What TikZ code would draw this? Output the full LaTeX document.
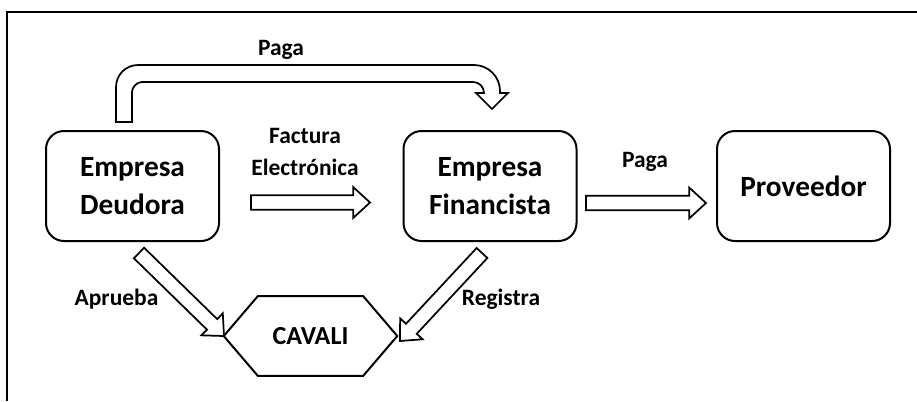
\documentclass[tikz,border=0pt]{standalone}
\usepackage{fontspec}
\setmainfont{Carlito}
\usetikzlibrary{calc}

\tikzset{
  box/.style={draw, line width=1.5pt, rounded corners=13.5pt, minimum width=129.75pt, minimum height=82.5pt, align=center, inner sep=0pt, font=\fontsize{22}{28.5}\selectfont\bfseries},
  lbl/.style={anchor=base, align=center, inner sep=0pt, font=\fontsize{17.6}{23}\selectfont\bfseries},
  blockline/.style={draw, line width=1.3pt, fill=white, line join=miter},
}
% block arrow from #1 (tail) to #2 (tip)
\newcommand{\blockarrow}[2]{%
  \coordinate (h) at ($(#2)!12.5pt!(#1)$);
  \draw[blockline] ($(#1)!5.5pt!90:(#2)$) -- ($(h)!5.5pt!-90:(#1)$) -- ($(h)!11.5pt!-90:(#1)$) -- (#2) -- ($(h)!11.5pt!90:(#1)$) -- ($(h)!5.5pt!90:(#1)$) -- ($(#1)!5.5pt!-90:(#2)$) -- cycle;}

\begin{document}
\begin{tikzpicture}[x=0.75pt,y=0.75pt,yscale=-1]
\useasboundingbox (0,0) rectangle (917,401);

%Frame
\draw[line width=1.5pt] (917,12) -- (7,12) -- (7,401);

%Shape: Boxes
\node[box] (deud) at (132.5,186) {Empresa\\Deudora};
\node[box] (fin) at (490,186) {Empresa\\Financista};
\node[box] (prov) at (803.5,186) {Proveedor};

%Shape: Hexagon
\node[minimum width=129.75pt, minimum height=59.25pt, inner sep=0pt, font=\fontsize{19.5}{23}\selectfont\bfseries] (cav) at (310.5,336) {CAVALI};
\draw[line width=1.5pt] (cav.west) -- ($(cav.north west)+(34,0)$) -- ($(cav.north east)+(-34,0)$) -- (cav.east) -- ($(cav.south east)+(-34,0)$) -- ($(cav.south west)+(34,0)$) -- cycle;

%Curve Lines: Paga (top)
\draw[blockline] (116,122) -- (116,87) .. controls (116,74.85) and (125.85,65) .. (138,65) -- (474,65) .. controls (488.36,65) and (500,76.64) .. (500,91) -- (500,93) -- (508,93) -- (492,109) -- (476,93) -- (484,93) .. controls (484,86.92) and (479.08,82) .. (473,82) -- (142,82) .. controls (136.48,82) and (132,87.52) .. (132,92) -- (132,122) -- cycle;

%Straight arrows
\coordinate (fac-a) at (251,202.5);
\coordinate (fac-b) at (370,202.5);
\coordinate (pag-a) at (586,203);
\coordinate (pag-b) at (706,203);
\coordinate (apr-a) at (139,253);
\coordinate (apr-b) at (224,336);
\coordinate (reg-a) at (482,253);
\coordinate (reg-b) at (400,341);
\blockarrow{fac-a}{fac-b}
\blockarrow{pag-a}{pag-b}
\blockarrow{apr-a}{apr-b}
\blockarrow{reg-a}{reg-b}

% Text Node
\node[lbl] (paga1) at (281,55) {Paga};
% Text Node
\node[lbl] (fact) at (305,143) {Factura};
\node[lbl] (elec) at (305,175) {Electrónica};
% Text Node
\node[lbl] (paga2) at (645,167) {Paga};
% Text Node
\node[lbl] (apr) at (116.5,305) {Aprueba};
% Text Node
\node[lbl] (reg) at (501,305) {Registra};

\end{tikzpicture}
\end{document}
